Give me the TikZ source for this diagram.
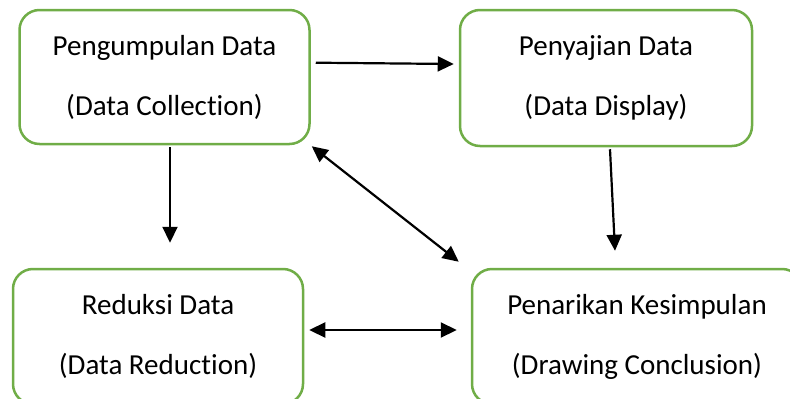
\documentclass[tikz,border=0pt]{standalone}
\usepackage{fontspec}
\setmainfont[Ligatures=NoCommon]{Carlito}
\usetikzlibrary{arrows.meta}
\definecolor{boxgreen}{HTML}{70AD47}
\tikzset{
  stagebox/.style={draw=boxgreen, line width=2.5pt, rounded corners=20pt,
    fill=white, align=center, inner sep=0pt,
    font={\fontsize{29pt}{60pt}\selectfont}},
  flow/.style={line width=2.2pt, -{Triangle[length=16pt,width=15pt]}},
  flowboth/.style={line width=2.2pt, {Triangle[length=16pt,width=15pt]}-{Triangle[length=16pt,width=15pt]}}
}
\begin{document}
\begin{tikzpicture}[x=1pt, y=-1pt]
  \useasboundingbox (0,0) rectangle (790,399);
  \clip (0,0) rectangle (790,399);

  % the four stages of the analysis
  \node[stagebox, minimum width=290pt, minimum height=134pt] (collect) at (164.5,77)
    {Pengumpulan Data\\(Data Collection)};
  \node[stagebox, minimum width=292pt, minimum height=136pt] (display) at (606,78)
    {Penyajian Data\\(Data Display)};
  \node[stagebox, minimum width=290pt, minimum height=135pt] (reduce) at (158,336.5)
    {Reduksi Data\\(Data Reduction)};
  \node[stagebox, minimum width=330pt, minimum height=135pt] (conclude) at (637,336.5)
    {Penarikan Kesimpulan\\(Drawing Conclusion)};

  % connectors between the stages
  \draw[flow] ([shift={(5,-14.3)}]collect.east) -- ([shift={(-5,-14)}]display.west);
  \draw[flow] ([shift={(5.5,2)}]collect.south) -- ([shift={(12,-25)}]reduce.north);
  \draw[flow] ([shift={(4,2)}]display.south) -- ([shift={(-22,-17)}]conclude.north);
  \draw[flowboth] ([shift={(1,1)}]collect.south east) -- ([shift={(-12,-6)}]conclude.north west);
  \draw[flowboth] ([shift={(5,-6.5)}]reduce.east) -- ([shift={(-14,-6.5)}]conclude.west);
\end{tikzpicture}
\end{document}
